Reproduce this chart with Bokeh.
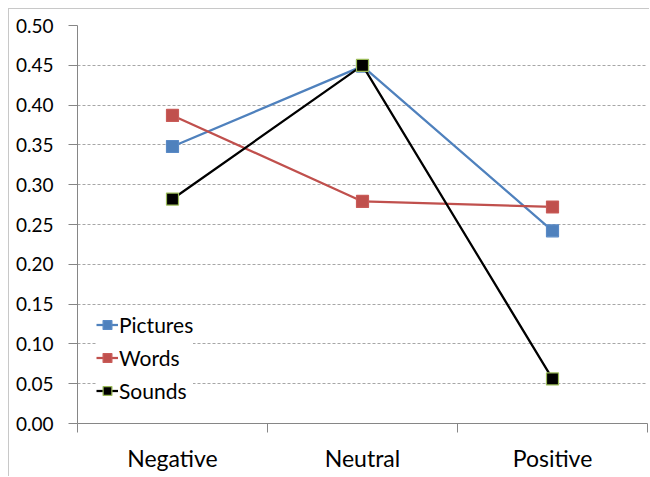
from bokeh.plotting import figure
from bokeh.models import Range1d, FixedTicker, Legend, LegendItem
from bokeh.embed import file_html
from bokeh.resources import INLINE

# Mean proportions per valence category
categories = ["Negative", "Neutral", "Positive"]
pictures = [0.348, 0.449, 0.242]
words = [0.387, 0.279, 0.272]
sounds = [0.282, 0.450, 0.056]
y_ticks = [0.0, 0.05, 0.10, 0.15, 0.20, 0.25, 0.30, 0.35, 0.40, 0.45, 0.50]

FONT = "Lato"
xs = [i + 0.5 for i in range(len(categories))]

# the chart area sits inside a thin light-grey frame (left and top edges visible)
p = figure(width=641, height=468, output_backend="svg", toolbar_location=None,
           x_range=Range1d(0, len(categories)), y_range=Range1d(0, 0.5),
           min_border_left=68, min_border_right=3, min_border_top=16,
           min_border_bottom=54, margin=(8, 0, 0, 8),
           styles={"border-left": "1px solid #c8c8c8",
                   "border-top": "1px solid #c8c8c8"})
p.outline_line_color = None
p.background_fill_color = "white"
p.border_fill_color = "white"

# y axis
yax = p.yaxis[0]
yax.ticker = FixedTicker(ticks=y_ticks, minor_ticks=[])
yax.major_label_overrides = {t: f"{t:.2f}" for t in y_ticks}
yax.axis_line_color = "#868686"
yax.major_tick_line_color = "#868686"
yax.major_tick_out = 9
yax.major_tick_in = 0
yax.minor_tick_line_color = None
yax.major_label_text_font = FONT
yax.major_label_text_font_size = "19px"
yax.major_label_text_color = "black"
yax.major_label_standoff = 15

# x axis: labels at category centres, tick marks at category boundaries
xax = p.xaxis[0]
xax.ticker = FixedTicker(ticks=xs, minor_ticks=list(range(len(categories) + 1)))
xax.major_label_overrides = {x: c for x, c in zip(xs, categories)}
xax.axis_line_color = "#868686"
xax.major_tick_line_color = None
xax.major_tick_out = 0
xax.major_tick_in = 0
xax.minor_tick_line_color = "#868686"
xax.minor_tick_out = 9
xax.minor_tick_in = 0
xax.major_label_text_font = FONT
xax.major_label_text_font_size = "23px"
xax.major_label_text_color = "black"
xax.major_label_standoff = 11

p.xgrid.grid_line_color = None
p.ygrid.ticker = FixedTicker(ticks=y_ticks[1:])
p.ygrid.grid_line_color = "#a6a6a6"
p.ygrid.grid_line_dash = "3 2"
p.ygrid.grid_line_width = 1

series = [
    ("Pictures", pictures, "#4F81BD", "#4F81BD", "#5a8ac6"),
    ("Words", words, "#C0504D", "#C0504D", "#c95c59"),
    ("Sounds", sounds, "black", "black", "#9BBB59"),
]

items = []
for name, vals, lc, fc, mc in series:
    lr = p.line(xs, vals, line_color=lc, line_width=2.25)
    sr = p.scatter(xs, vals, marker="square", size=12, fill_color=fc,
                   line_color=mc, line_width=1.2)
    items.append(LegendItem(label=name, renderers=[lr, sr]))

legend = Legend(items=items, location=(19, 20), orientation="vertical",
                label_text_font=FONT, label_text_font_size="21px",
                label_text_color="black", glyph_width=22, glyph_height=25,
                label_height=25, spacing=8, padding=5, margin=0,
                label_standoff=1, border_line_color=None,
                background_fill_color="white", background_fill_alpha=1.0)
p.add_layout(legend, "center")

open("out.html", "w").write(file_html(p, INLINE))
